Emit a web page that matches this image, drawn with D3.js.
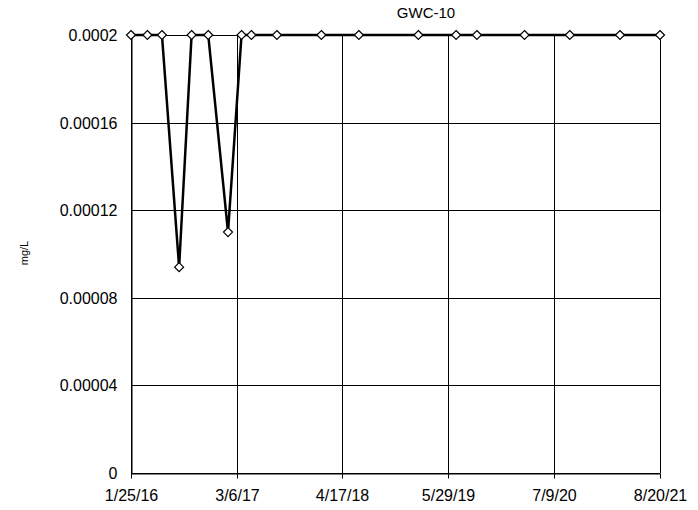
<!DOCTYPE html>
<html><head><meta charset="utf-8">
<script src="https://cdn.jsdelivr.net/npm/d3@7"></script>
<style>body{margin:0;background:#fff}svg{display:block}text{font-family:"Liberation Sans",Arial,sans-serif}</style>
</head><body>
<svg id="c" width="698" height="510"></svg>
<script>
const dates = ["1/25/16","3/28/16","5/23/16","7/28/16","9/14/16","11/17/16","2/1/17","3/25/17","5/2/17","8/8/17","1/26/18","6/19/18","2/3/19","6/28/19","9/16/19","3/17/20","9/7/20","3/19/21","8/20/21"];
const values = [0.0002,0.0002,0.0002,0.000094,0.0002,0.0002,0.00011,0.0002,0.0002,0.0002,0.0002,0.0002,0.0002,0.0002,0.0002,0.0002,0.0002,0.0002,0.0002];
const xTickLabels = ["1/25/16","3/6/17","4/17/18","5/29/19","7/9/20","8/20/21"];
const yTicks = [0,0.00004,0.00008,0.00012,0.00016,0.0002];
const yTickLabels = ["0","0.00004","0.00008","0.00012","0.00016","0.0002"];
const title = "GWC-10";
const yLabel = "mg/L";

const parse = d3.timeParse("%m/%d/%y");
const L=131,R=660,T=35,B=473;
const svg = d3.select("#c");
const x = d3.scaleTime().domain([parse(xTickLabels[0]), parse(xTickLabels[xTickLabels.length-1])]).range([L,R]);
const y = d3.scaleLinear().domain([0,0.0002]).range([B,T]);
const xt = xTickLabels.map(parse);

// gridlines
svg.append("g").selectAll("line").data(yTicks).join("line")
  .attr("x1",L).attr("x2",R).attr("y1",d=>Math.round(y(d))+0.5).attr("y2",d=>Math.round(y(d))+0.5)
  .attr("stroke","#000").attr("stroke-width",1);
svg.append("g").selectAll("line").data(xt).join("line")
  .attr("y1",T).attr("y2",B).attr("x1",d=>Math.round(x(d))+0.5).attr("x2",d=>Math.round(x(d))+0.5)
  .attr("stroke","#000").attr("stroke-width",1);

// axes
const xa = svg.append("g").attr("transform",`translate(0,${B+0.5})`)
  .call(d3.axisBottom(x).tickValues(xt).tickFormat((d,i)=>xTickLabels[i]).tickSizeOuter(0).tickSizeInner(5).tickPadding(11));
const ya = svg.append("g").attr("transform",`translate(${L+0.5},0)`)
  .call(d3.axisLeft(y).tickValues(yTicks).tickFormat((d,i)=>yTickLabels[i]).tickSizeOuter(0).tickSizeInner(5).tickPadding(9));
[xa,ya].forEach(a=>{a.selectAll("text").attr("font-size",16).attr("fill","#000").attr("font-family","Liberation Sans, Arial, sans-serif");
  a.selectAll("line,path").attr("stroke","#000").attr("stroke-width",1);});
ya.selectAll(".tick line").attr("x1",-5);
ya.selectAll(".tick").attr("transform",d=>`translate(0,${Math.round(y(d))+0.5})`);
xa.selectAll(".tick").attr("transform",d=>`translate(${Math.round(x(d))+0.5},0)`);

// line
const pts = dates.map((d,i)=>({d:parse(d),v:values[i]}));
svg.append("path").datum(pts)
  .attr("d",d3.line().x(p=>x(p.d)).y(p=>y(p.v)))
  .attr("fill","none").attr("stroke","#000").attr("stroke-width",2.5);
svg.append("g").selectAll("path").data(pts).join("path")
  .attr("transform",p=>`translate(${x(p.d)},${y(p.v)})`)
  .attr("d","M0,-4.5L4.5,0L0,4.5L-4.5,0Z")
  .attr("fill","#fff").attr("stroke","#000").attr("stroke-width",1.2);

svg.append("text").attr("x",426).attr("y",18).attr("text-anchor","middle").attr("font-size",15).text(title);
svg.append("text").attr("transform","translate(28,253) rotate(-90)").attr("text-anchor","middle").attr("font-size",11).text(yLabel);
</script>
</body></html>
